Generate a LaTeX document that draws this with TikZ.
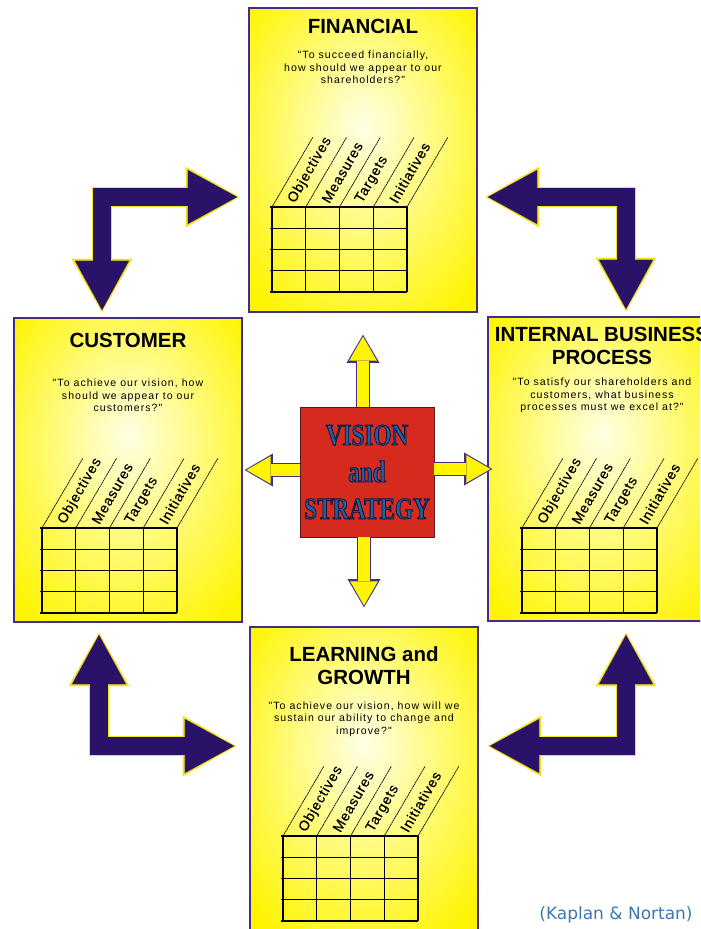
\documentclass[tikz,border=0pt]{standalone}
\usepackage{fontspec}
\setmainfont{Liberation Sans}
\newfontfamily\quotefont[LetterSpace=10]{Liberation Sans}
\newfontfamily\headfont[LetterSpace=6,FakeBold=0.5]{Liberation Sans}
\newfontfamily\visionfont[FakeStretch=0.76]{Liberation Serif}
\newfontfamily\citefont{DejaVu Sans}
\usetikzlibrary{positioning,calc,arrows.meta}

\definecolor{panelyellow}{RGB}{255,244,0}
\definecolor{glowcore}{RGB}{255,255,228}
\definecolor{glowmid}{RGB}{255,252,150}
\definecolor{paneledge}{RGB}{66,44,140}
\definecolor{visionred}{RGB}{214,42,30}
\definecolor{visionedge}{RGB}{90,25,25}
\definecolor{visionblue}{RGB}{30,96,160}
\definecolor{arrownavy}{RGB}{42,18,105}
\definecolor{arrowgold}{RGB}{240,226,20}
\definecolor{sunyellow}{RGB}{255,245,0}
\definecolor{citeblue}{RGB}{60,120,175}

\pgfdeclareradialshading{panelglow}{\pgfpoint{0bp}{6bp}}{color(0bp)=(glowcore); color(12bp)=(glowmid); color(34bp)=(panelyellow); color(50bp)=(panelyellow)}

% outlined letters for the centre box
\newcommand{\outlined}[1]{\special{pdf:literal direct 0.7 w 0.06 0.08 0.22 RG 2 Tr}#1\special{pdf:literal direct 0 Tr}}

% measures table with slanted column heads, #1 name prefix, #2 top left corner
\newcommand{\kpigrid}[2]{%
  \begin{scope}[shift={#2}]
    \foreach \col in {0,...,4}
      \draw[gridline] (\col*33.75,0) -- (\col*33.75,85);
    \foreach \row in {0,...,4}
      \draw[gridline] (-2,\row*21.25) -- (135,\row*21.25);
    \foreach \col in {0,...,4}
      \draw[slantline] (\col*33.75,0) -- ++(41,-70);
    \foreach \lab [count=\col from 0] in {Objectives,Measures,Targets,Initiatives}
      \node[colhead] (#1-h\col) at (\col*33.75+19.5,-5) {\lab};
  \end{scope}}

\begin{document}
\begin{tikzpicture}[x=0.03cm, y=-0.03cm,
  panel/.style={draw=paneledge, line width=1.4pt, shade, shading=panelglow,
    minimum width=6.84cm, minimum height=9.12cm, inner sep=0pt},
  paneltitle/.style={font=\bfseries\fontsize{17.5}{19.5}\selectfont, align=center, inner sep=0pt},
  question/.style={font=\quotefont\fontsize{9}{10.7}\selectfont, align=center, inner sep=0pt},
  colhead/.style={font=\headfont\fontsize{12}{14}\selectfont, anchor=west, rotate=60, inner sep=0pt},
  gridline/.style={line width=0.9pt},
  slantline/.style={line width=0.6pt, dash pattern=on 1.6pt off 0.5pt},
  sunlink/.style={draw=sunyellow, line width=9.4pt, shorten >=1.6pt,
    -{Triangle[length=20.5pt, width=23.5pt, line width=0.01pt]},
    preaction={draw=paneledge, line width=12pt, shorten >=0pt,
      -{Triangle[length=24pt, width=28pt, line width=0.01pt]}}},
  navylink/.style={draw=arrownavy, line width=15pt, line join=miter,
    shorten >=1.8pt, shorten <=1.8pt,
    {Triangle[length=42pt, width=46pt, line width=0.01pt]}-{Triangle[length=42pt, width=46pt, line width=0.01pt]},
    preaction={draw=arrowgold, line width=17.5pt, line join=miter, shorten >=0pt, shorten <=0pt,
      {Triangle[length=45.5pt, width=51.5pt, line width=0.01pt]}-{Triangle[length=45.5pt, width=51.5pt, line width=0.01pt]}}}
]
  \useasboundingbox (0,0) rectangle (700,929);
  \clip (0,0) rectangle (700,929);

  % the four perspectives
  \node[panel] (financial) at (363,160) {};
  \node[panel] (customer)  at (128,470) {};
  \node[panel] (internal)  at (602,469) {};
  \node[panel] (learning)  at (364,779) {};

  \node[paneltitle, below=10pt of financial.north] (fin-title) {FINANCIAL};
  \node[question, below=14.5pt of fin-title] (fin-q)
    {"To succeed financially,\\how should we appear to our\\shareholders?"};

  \node[paneltitle, below=13.5pt of customer.north] (cus-title) {CUSTOMER};
  \node[question, below=26.5pt of cus-title] (cus-q)
    {"To achieve our vision, how\\should we appear to our\\customers?"};

  \node[paneltitle, below=9.4pt of internal.north] (ibp-title) {INTERNAL BUSINESS\\PROCESS};
  \node[question, below=11pt of ibp-title] (ibp-q)
    {"To satisfy our shareholders and\\customers, what business\\processes must we excel at?"};

  \node[paneltitle, below=17pt of learning.north] (lng-title) {LEARNING and\\GROWTH};
  \node[question, below=14.5pt of lng-title] (lng-q)
    {"To achieve our vision, how will we\\sustain our ability to change and\\improve?"};

  \kpigrid{fin}{(272,207)}
  \kpigrid{cus}{(42,528)}
  \kpigrid{ibp}{(522,528)}
  \kpigrid{lng}{(283,836)}

  % centre
  \node[draw=visionedge, fill=visionred, line width=0.8pt, minimum width=4.02cm, minimum height=3.9cm,
    font=\visionfont\bfseries\fontsize{26}{31.5}\selectfont, text=visionblue, align=center]
    (vision) at (367,472) {\outlined{VISION}\\\outlined{and}\\\outlined{STRATEGY}};

  \draw[sunlink] (vision.north -| financial.south) -- ($(financial.south)+(0,22)$);
  \draw[sunlink] (vision.south -| learning.north) -- ($(learning.north)+(0,-19)$);
  \draw[sunlink] (vision.west |- customer.east) -- ($(customer.east)+(2,0)$);
  \draw[sunlink] (vision.east |- internal.west) -- ($(internal.west)+(5,0)$);

  % links between perspectives
  \draw[navylink] ($(customer.north)+(-26,-5)$) |- ($(financial.west)+(-9,37)$);
  \draw[navylink] ($(financial.east)+(8,37)$) -| ($(internal.north)+(24,-5)$);
  \draw[navylink] ($(customer.south)+(-29,10)$) |- ($(learning.west)+(-13,-33)$);
  \draw[navylink] ($(learning.east)+(9,-33)$) -| ($(internal.south)+(24,11)$);

  \node[font=\citefont\fontsize{14.5}{17}\selectfont, text=citeblue, inner sep=0pt]
    (source) at (616,915) {(Kaplan \& Nortan)};
\end{tikzpicture}
\end{document}
